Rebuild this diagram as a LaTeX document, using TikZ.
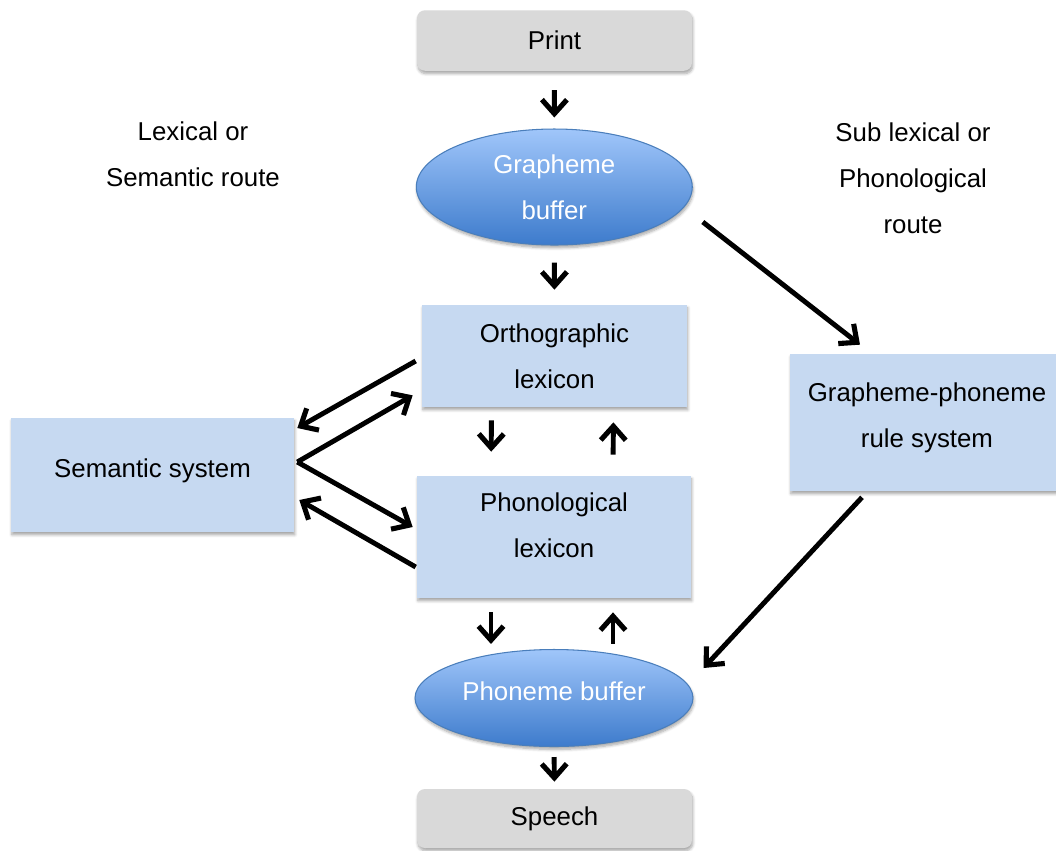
\documentclass[tikz,border=0pt]{standalone}
\usepackage{fontspec}
\setmainfont{Liberation Sans}
\usetikzlibrary{arrows.meta,calc,shapes.geometric,shadows.blur}

\definecolor{boxblue}{HTML}{C6D9F1}
\definecolor{boxgray}{HTML}{D9D9D9}
\definecolor{bufftop}{HTML}{A0C6FA}
\definecolor{buffbot}{HTML}{3D7BCC}
\definecolor{buffline}{HTML}{4A7EBB}

% raises a node text by giving its last line some depth
\newcommand{\textlift}[1]{\rule[-#1]{0pt}{0pt}}

\tikzset{
  softshadow/.style={blur shadow={shadow xshift=0.5pt, shadow yshift=-1.6pt,
      shadow blur steps=6, shadow blur radius=1.6pt, shadow opacity=35}},
  lexbox/.style={fill=boxblue, align=center, inner sep=0pt, softshadow},
  endbox/.style={lexbox, fill=boxgray, rounded corners=4.5pt},
  buffer/.style={ellipse, draw=buffline, line width=0.6pt, top color=bufftop,
      bottom color=buffbot, text=white, align=center, inner sep=0pt, softshadow},
  route/.style={align=center},
  flow/.style={line width=2.8pt,
      -{Straight Barb[length=0.28cm, width=0.5cm, line width=2.9pt]}}
}

\begin{document}
\begin{tikzpicture}[x=0.02cm, y=-0.02cm, font=\fontsize{14.7}{26.1}\selectfont]
  \useasboundingbox (0,0) rectangle (1056,850);

  % Main column
  \node[endbox, minimum width=5.5cm, minimum height=1.21cm] (print) at (554.5,40.5) {Print};
  \node[buffer, minimum width=5.52cm, minimum height=2.32cm] (gbuf) at (554.3,187) {Grapheme\\buffer};
  \node[lexbox, minimum width=5.3cm, minimum height=2.04cm] (ortho) at (554.5,356) {Orthographic\\lexicon};
  \node[lexbox, minimum width=5.48cm, minimum height=2.44cm] (phono) at (554,537) {Phonological\\lexicon\textlift{13.6pt}};
  \node[buffer, minimum width=5.56cm, minimum height=1.94cm] (pbuf) at (554,698) {Phoneme buffer\textlift{7.9pt}};
  \node[endbox, minimum width=5.5cm, minimum height=1.18cm] (speech) at (554.5,818.5) {Speech};

  % Side boxes
  \node[lexbox, minimum width=5.66cm, minimum height=2.28cm] (sem) at (152.5,475) {Semantic system\textlift{7.6pt}};
  \node[lexbox, minimum width=5.48cm, minimum height=2.74cm] (gp) at (927,422.5) {Grapheme-phoneme\\rule system\textlift{8.8pt}};

  % Routes
  \node[route] (lexroute) at (193,154.5) {Lexical or\\Semantic route};
  \node[route] (subroute) at (913,178) {Sub lexical or\\Phonological\\route};

  % Vertical arrows
  \draw[flow, shorten <=0.38cm, shorten >=0.22cm] (print.south) -- (gbuf.north);
  \draw[flow, shorten <=0.34cm, shorten >=0.3cm] (gbuf.south) -- (ortho.north);
  \draw[flow, shorten <=0.26cm, shorten >=0.48cm] ($(ortho.south)+(-63,0)$) -- ($(phono.north)+(-63,0)$);
  \draw[flow, shorten <=0.42cm, shorten >=0.3cm] ($(phono.north)+(59,0)$) -- ($(ortho.south)+(59,0)$);
  \draw[flow, shorten <=0.28cm, shorten >=0.1cm] ($(phono.south)+(-63,0)$) -- ($(pbuf.north)+(-63,0)$);
  \draw[flow, shorten <=0.1cm, shorten >=0.28cm] ($(pbuf.north)+(59,0)$) -- ($(phono.south)+(59,0)$);
  \draw[flow, shorten <=0.2cm, shorten >=0.14cm] (pbuf.south) -- (speech.north);

  % Semantic links
  \draw[flow] ($(ortho.west)+(-6,5)$) -- ($(sem.east)+(3,-47)$);
  \draw[flow] ($(sem.east)+(3,-13)$) -- ($(ortho.south west)+(-9,-12)$);
  \draw[flow] ($(sem.east)+(3,-13)$) -- ($(phono.west)+(-4,-10)$);
  \draw[flow] ($(phono.west)+(-1,30)$) -- ($(sem.east)+(5,25)$);

  % Sub lexical route
  \draw[flow] ($(gbuf.east)+(10,35)$) -- ($(gp.north)+(-67,-9)$);
  \draw[flow] ($(gp.south)+(-65,6)$) -- ($(pbuf.east)+(10,-30)$);
\end{tikzpicture}
\end{document}
